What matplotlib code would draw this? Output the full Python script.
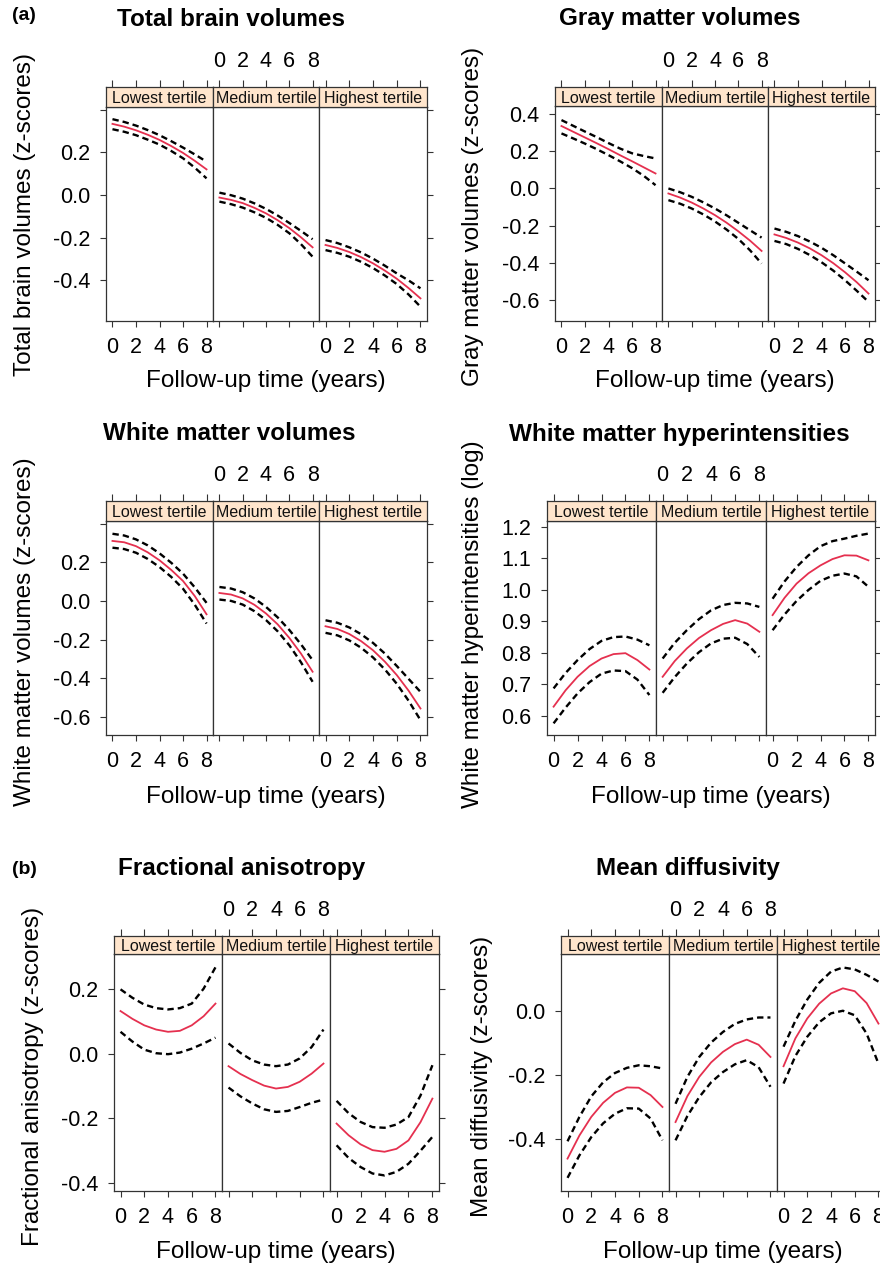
import matplotlib.pyplot as plt

plt.rcParams['font.family'] = ['Liberation Sans', 'DejaVu Sans']

# ---- data -------------------------------------------------------------
years = [0, 1, 2, 3, 4, 5, 6, 7, 8]
year_ticks = [0, 2, 4, 6, 8]
year_labels = ['0', '2', '4', '6', '8']
tertiles = ['Lowest tertile', 'Medium tertile', 'Highest tertile']

# Total brain volumes
tbv_fit = [[0.333, 0.320, 0.303, 0.282, 0.258, 0.229, 0.197, 0.160, 0.120],
           [-0.012, -0.023, -0.038, -0.060, -0.086, -0.118, -0.155, -0.198, -0.245],
           [-0.234, -0.248, -0.267, -0.291, -0.320, -0.354, -0.392, -0.436, -0.484]]
tbv_hi = [[0.355, 0.342, 0.325, 0.304, 0.280, 0.252, 0.222, 0.190, 0.156],
          [0.011, -0.001, -0.017, -0.039, -0.065, -0.096, -0.131, -0.168, -0.207],
          [-0.211, -0.225, -0.245, -0.269, -0.298, -0.331, -0.367, -0.400, -0.437]]
tbv_lo = [[0.308, 0.296, 0.280, 0.259, 0.236, 0.206, 0.172, 0.128, 0.078],
          [-0.031, -0.043, -0.059, -0.081, -0.107, -0.140, -0.179, -0.230, -0.289],
          [-0.258, -0.271, -0.289, -0.313, -0.342, -0.377, -0.417, -0.466, -0.523]]

# Gray matter volumes
gmv_fit = [[0.337, 0.306, 0.275, 0.244, 0.212, 0.179, 0.147, 0.114, 0.081],
           [-0.027, -0.049, -0.076, -0.108, -0.144, -0.185, -0.231, -0.281, -0.337],
           [-0.248, -0.267, -0.292, -0.323, -0.360, -0.403, -0.452, -0.506, -0.567]]
gmv_hi = [[0.369, 0.338, 0.307, 0.277, 0.245, 0.215, 0.190, 0.175, 0.162],
          [0.000, -0.020, -0.045, -0.075, -0.108, -0.145, -0.185, -0.225, -0.265],
          [-0.216, -0.234, -0.257, -0.286, -0.320, -0.360, -0.404, -0.449, -0.495]]
gmv_lo = [[0.297, 0.270, 0.242, 0.212, 0.180, 0.146, 0.110, 0.068, 0.018],
          [-0.063, -0.082, -0.108, -0.140, -0.178, -0.222, -0.272, -0.333, -0.405],
          [-0.283, -0.300, -0.326, -0.359, -0.398, -0.443, -0.495, -0.552, -0.612]]

# White matter volumes
wmv_fit = [[0.310, 0.303, 0.283, 0.251, 0.210, 0.160, 0.103, 0.025, -0.069],
           [0.041, 0.033, 0.013, -0.020, -0.065, -0.121, -0.191, -0.272, -0.366],
           [-0.131, -0.145, -0.171, -0.208, -0.255, -0.314, -0.383, -0.464, -0.556]]
wmv_hi = [[0.347, 0.338, 0.318, 0.287, 0.246, 0.197, 0.141, 0.070, -0.010],
          [0.072, 0.064, 0.045, 0.013, -0.031, -0.085, -0.150, -0.224, -0.306],
          [-0.100, -0.113, -0.137, -0.172, -0.217, -0.272, -0.336, -0.403, -0.470]]
wmv_lo = [[0.275, 0.268, 0.249, 0.217, 0.175, 0.124, 0.063, -0.020, -0.117],
          [0.007, 0.000, -0.019, -0.053, -0.099, -0.157, -0.229, -0.317, -0.418],
          [-0.165, -0.178, -0.204, -0.242, -0.292, -0.354, -0.428, -0.516, -0.616]]

# White matter hyperintensities (log)
wmh_fit = [[0.629, 0.681, 0.724, 0.758, 0.782, 0.796, 0.799, 0.777, 0.747],
           [0.724, 0.774, 0.814, 0.847, 0.872, 0.892, 0.904, 0.893, 0.867],
           [0.920, 0.975, 1.020, 1.053, 1.078, 1.098, 1.110, 1.109, 1.094]]
wmh_hi = [[0.687, 0.736, 0.777, 0.812, 0.838, 0.850, 0.852, 0.842, 0.824],
          [0.782, 0.832, 0.872, 0.907, 0.935, 0.952, 0.959, 0.957, 0.946],
          [0.972, 1.027, 1.073, 1.110, 1.139, 1.155, 1.163, 1.172, 1.179]]
wmh_lo = [[0.576, 0.626, 0.671, 0.707, 0.734, 0.744, 0.742, 0.715, 0.666],
          [0.673, 0.723, 0.766, 0.802, 0.830, 0.845, 0.848, 0.828, 0.787],
          [0.872, 0.922, 0.965, 1.000, 1.029, 1.045, 1.052, 1.043, 1.010]]

# Fractional anisotropy
fa_fit = [[0.131, 0.107, 0.087, 0.074, 0.067, 0.070, 0.087, 0.115, 0.154],
          [-0.039, -0.063, -0.082, -0.099, -0.108, -0.103, -0.087, -0.062, -0.031],
          [-0.216, -0.252, -0.280, -0.298, -0.303, -0.294, -0.268, -0.212, -0.139]]
fa_hi = [[0.198, 0.172, 0.151, 0.140, 0.136, 0.140, 0.154, 0.200, 0.266],
         [0.031, 0.002, -0.021, -0.034, -0.039, -0.034, -0.015, 0.020, 0.074],
         [-0.146, -0.184, -0.211, -0.227, -0.229, -0.219, -0.196, -0.130, -0.036]]
fa_lo = [[0.067, 0.037, 0.012, 0.001, -0.002, 0.003, 0.015, 0.031, 0.049],
         [-0.105, -0.132, -0.154, -0.172, -0.180, -0.177, -0.165, -0.152, -0.142],
         [-0.283, -0.322, -0.350, -0.370, -0.376, -0.365, -0.340, -0.300, -0.257]]

# Mean diffusivity
md_fit = [[-0.460, -0.388, -0.330, -0.286, -0.255, -0.238, -0.239, -0.262, -0.299],
          [-0.346, -0.265, -0.205, -0.160, -0.127, -0.103, -0.089, -0.105, -0.143],
          [-0.172, -0.085, -0.023, 0.023, 0.055, 0.071, 0.062, 0.025, -0.039]]
md_hi = [[-0.406, -0.330, -0.266, -0.222, -0.193, -0.177, -0.169, -0.172, -0.179],
         [-0.289, -0.205, -0.143, -0.098, -0.065, -0.040, -0.026, -0.020, -0.020],
         [-0.111, -0.030, 0.036, 0.088, 0.123, 0.136, 0.130, 0.113, 0.092]]
md_lo = [[-0.520, -0.450, -0.393, -0.350, -0.320, -0.303, -0.304, -0.335, -0.403],
         [-0.403, -0.327, -0.268, -0.222, -0.190, -0.166, -0.153, -0.175, -0.236],
         [-0.226, -0.140, -0.080, -0.035, -0.007, 0.001, -0.013, -0.070, -0.164]]

# ---- style -------------------------------------------------------------
RED = '#E5304F'
STRIP = '#FFE5CC'
EDGE = '#333333'
TICK_FS = 15.5
LABEL_FS = 17.5

W, H = 880, 1266
fig = plt.figure(figsize=(W / 100, H / 100), dpi=100)


def rect(l, t, r, b):
  # pixel box (from top-left) -> figure fraction
  return [l / W, 1 - b / H, (r - l) / W, (b - t) / H]


def drawPanel(edges, stripTop, stripBot, plotBot, ylim, yticks, ylabels,
              fit, hi, lo):
  for i in range(3):
    l, r = edges[i], edges[i + 1]
    ax = fig.add_axes(rect(l, stripBot, r, plotBot))
    ax.plot(years, hi[i], color='black', lw=1.7, ls=(0, (2.7, 1.7)))
    ax.plot(years, lo[i], color='black', lw=1.7, ls=(0, (2.7, 1.7)))
    ax.plot(years, fit[i], color=RED, lw=1.3)
    ax.set_xlim(-0.55, 8.55)
    ax.set_ylim(ylim)
    for s in ax.spines.values():
      s.set_color(EDGE)
      s.set_linewidth(0.9)

    ax.set_xticks(year_ticks)
    ax.set_xticklabels(year_labels)
    ax.tick_params(axis='x', direction='out', length=4.5, width=0.8,
                   color=EDGE, labelsize=TICK_FS, pad=7,
                   bottom=True, top=False, labelbottom=(i != 1))
    ax.set_yticks(yticks)
    if i == 0:
      ax.set_yticklabels(ylabels)
      ax.tick_params(axis='y', left=True, right=False, labelleft=True,
                     length=4.5, width=0.8, color=EDGE,
                     labelsize=TICK_FS, pad=7)
    elif i == 2:
      ax.tick_params(axis='y', left=False, right=True, labelleft=False,
                     length=4.5, width=0.8, color=EDGE)
    else:
      ax.tick_params(axis='y', left=False, right=False, labelleft=False)

    # strip on top with the tertile name
    st = fig.add_axes(rect(l, stripTop, r, stripBot))
    st.set_facecolor(STRIP)
    st.set_xlim(-0.55, 8.55)
    st.set_ylim(0, 1)
    st.set_yticks([])
    st.set_xticks(year_ticks)
    st.set_xticklabels(year_labels)
    st.tick_params(axis='x', bottom=False, labelbottom=False, top=True,
                   labeltop=(i == 1), direction='out', length=5,
                   width=0.8, color=EDGE, labelsize=TICK_FS, pad=6)
    for s in st.spines.values():
      s.set_color(EDGE)
      s.set_linewidth(0.9)
    st.text(0.5, 0.42, tertiles[i], transform=st.transAxes,
            ha='center', va='center', fontsize=11.5, color='#111111')


def figText(x, y, s, **kw):
  fig.text(x / W, 1 - y / H, s, ha='center', va='center', **kw)


# (a) row 1
drawPanel([106, 213, 319, 427], 87, 107, 321, (-0.59, 0.412),
          [0.4, 0.2, 0.0, -0.2, -0.4], ['', '0.2', '0.0', '-0.2', '-0.4'],
          tbv_fit, tbv_hi, tbv_lo)
drawPanel([555, 662, 768, 875], 87, 106, 321, (-0.715, 0.445),
          [0.4, 0.2, 0.0, -0.2, -0.4, -0.6],
          ['0.4', '0.2', '0.0', '-0.2', '-0.4', '-0.6'],
          gmv_fit, gmv_hi, gmv_lo)
# (a) row 2
drawPanel([106, 213, 319, 427], 501, 521, 735, (-0.693, 0.413),
          [0.4, 0.2, 0.0, -0.2, -0.4, -0.6],
          ['', '0.2', '0.0', '-0.2', '-0.4', '-0.6'],
          wmv_fit, wmv_hi, wmv_lo)
drawPanel([547, 656, 766, 875], 501, 521, 735, (0.539, 1.219),
          [0.6, 0.7, 0.8, 0.9, 1.0, 1.1, 1.2],
          ['0.6', '0.7', '0.8', '0.9', '1.0', '1.1', '1.2'],
          wmh_fit, wmh_hi, wmh_lo)
# (b)
drawPanel([114, 222, 330, 439], 936, 954, 1191, (-0.424, 0.307),
          [0.2, 0.0, -0.2, -0.4], ['0.2', '0.0', '-0.2', '-0.4'],
          fa_fit, fa_hi, fa_lo)
drawPanel([561, 669, 777, 885], 936, 954, 1191, (-0.561, 0.178),
          [0.0, -0.2, -0.4], ['0.0', '-0.2', '-0.4'],
          md_fit, md_hi, md_lo)

# titles
figText(231, 19, 'Total brain volumes', fontsize=17.5, fontweight='bold')
figText(680, 19, 'Gray matter volumes', fontsize=17.5, fontweight='bold')
figText(229, 434, 'White matter volumes', fontsize=17.5, fontweight='bold')
figText(679, 434, 'White matter hyperintensities', fontsize=17.5, fontweight='bold')
figText(242, 869, 'Fractional anisotropy', fontsize=17.5, fontweight='bold')
figText(688, 869, 'Mean diffusivity', fontsize=17.5, fontweight='bold')

fig.text(12 / W, 1 - 15 / H, '(a)', ha='left', va='center', fontsize=14, fontweight='bold')
fig.text(12 / W, 1 - 869 / H, '(b)', ha='left', va='center', fontsize=14, fontweight='bold')

# x labels
for cx, cy in [(266, 381), (715, 381), (266, 797), (711, 797), (276, 1252), (723, 1252)]:
  figText(cx, cy, 'Follow-up time (years)', fontsize=LABEL_FS)

# y labels
figText(25, 215, 'Total brain volumes (z-scores)', fontsize=LABEL_FS, rotation=90)
figText(473, 216, 'Gray matter volumes (z-scores)', fontsize=LABEL_FS, rotation=90)
figText(25, 632, 'White matter volumes (z-scores)', fontsize=LABEL_FS, rotation=90)
figText(473, 624, 'White matter hyperintensities (log)', fontsize=LABEL_FS, rotation=90)
figText(33, 1076, 'Fractional anisotropy (z-scores)', fontsize=LABEL_FS, rotation=90)
figText(482, 1076, 'Mean diffusivity (z-scores)', fontsize=LABEL_FS, rotation=90)

fig.savefig('out.png', dpi=100)
